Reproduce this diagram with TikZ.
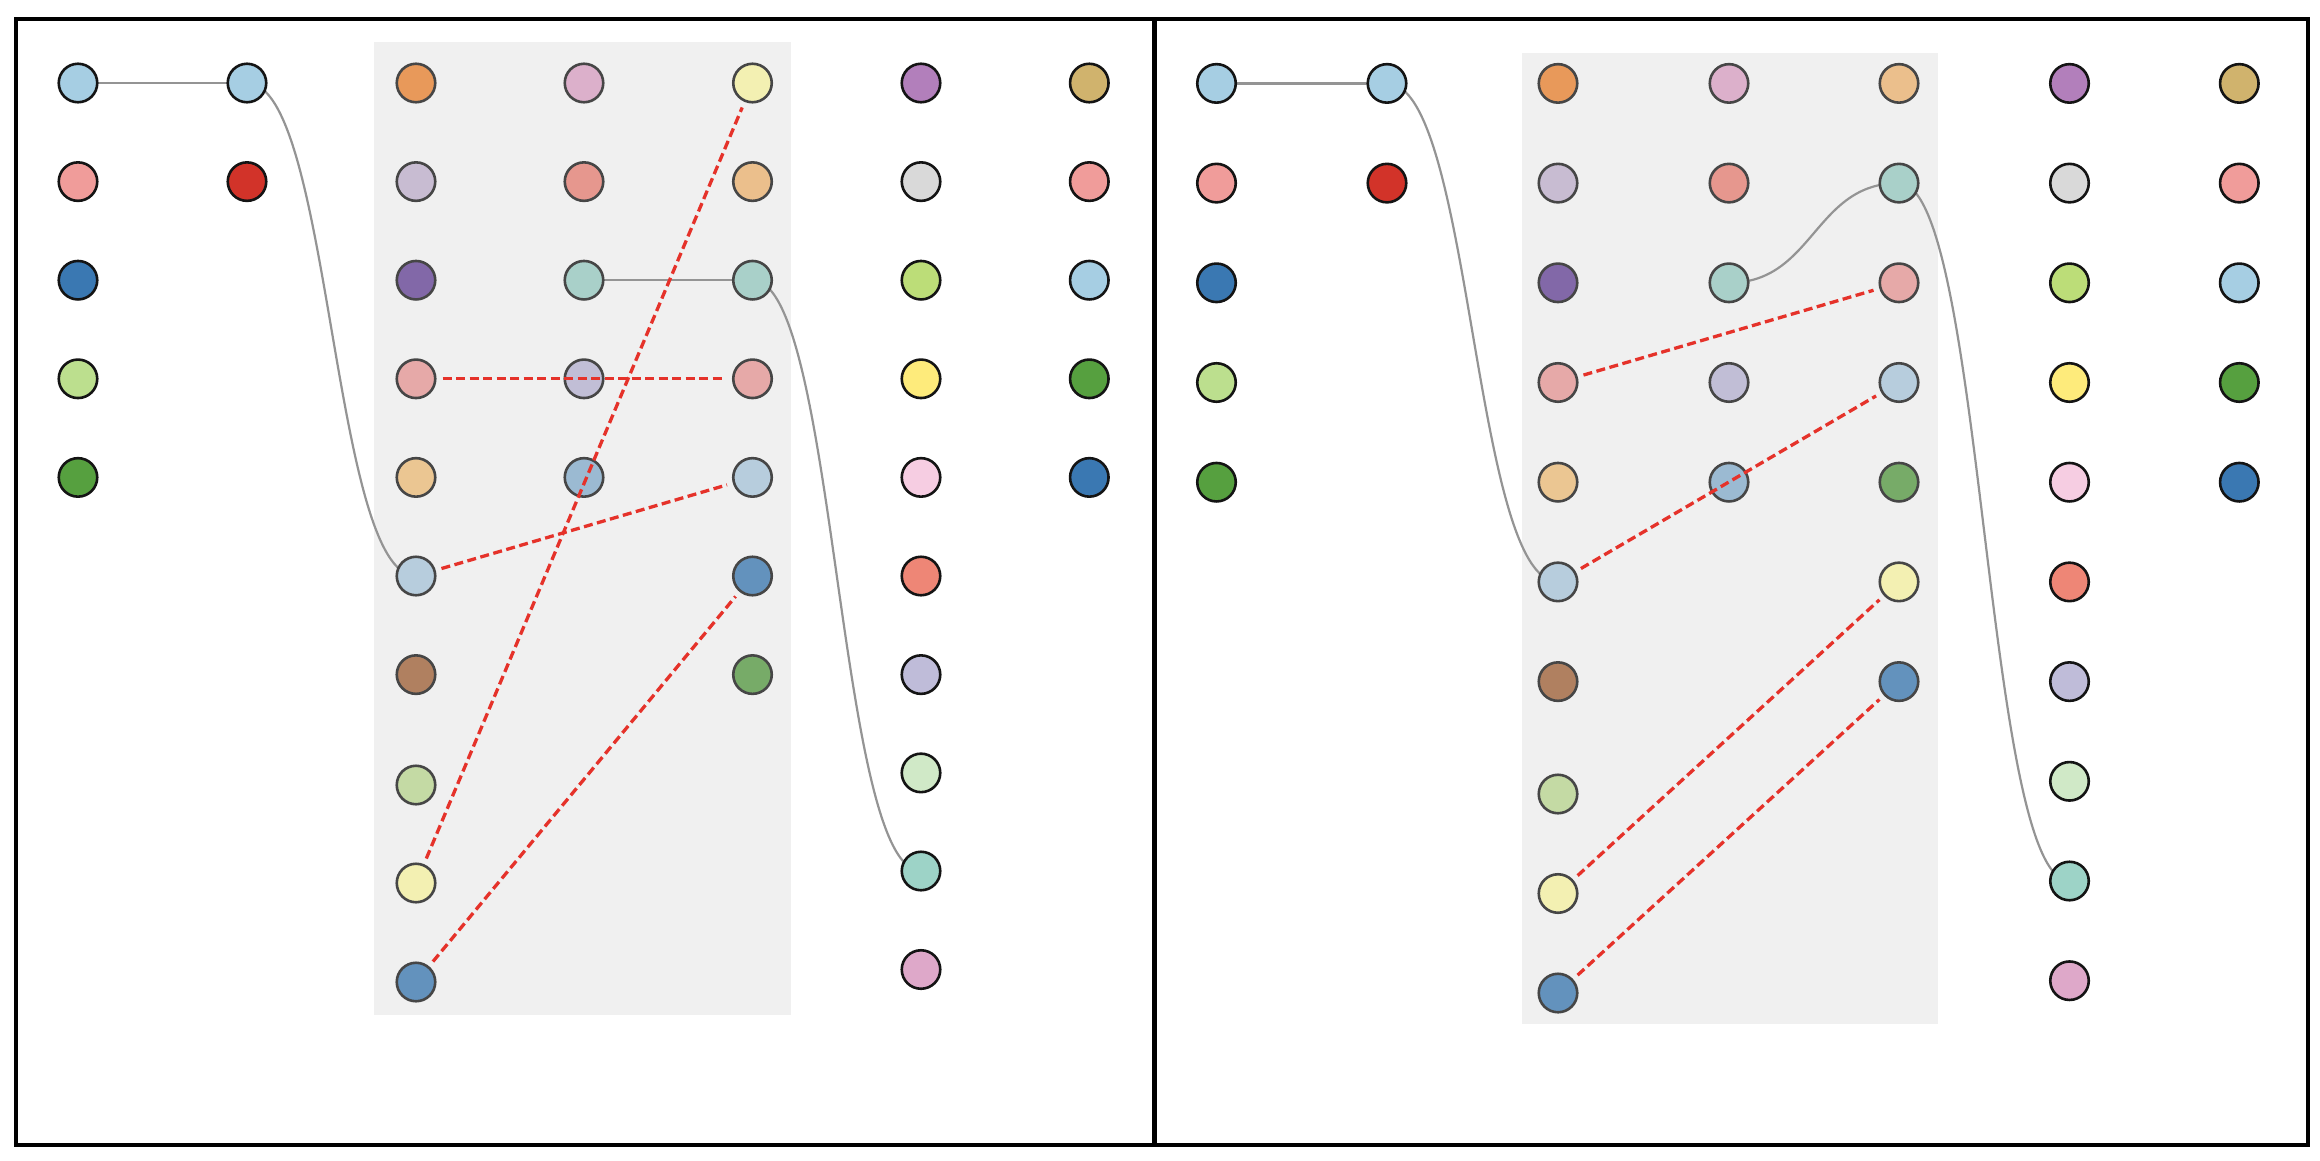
\documentclass[tikz,border=0pt]{standalone}
\usetikzlibrary{calc}
\pgfdeclarelayer{back}
\pgfdeclarelayer{links}
\pgfsetlayers{back,links,main}
\definecolor{lb}{HTML}{A6CEE3}
\definecolor{pk}{HTML}{F09C9A}
\definecolor{bl}{HTML}{3A78B2}
\definecolor{lg}{HTML}{BCDF8E}
\definecolor{gn}{HTML}{56A03F}
\definecolor{rd}{HTML}{D23329}
\definecolor{cOrange}{HTML}{E8995A}
\definecolor{cLav}{HTML}{C8BCD2}
\definecolor{cPurp}{HTML}{8268A8}
\definecolor{cRose}{HTML}{E6A9A8}
\definecolor{cTan}{HTML}{EBC692}
\definecolor{cLsteel}{HTML}{B7CDDD}
\definecolor{cBrown}{HTML}{B08060}
\definecolor{cOlive}{HTML}{C4DAA4}
\definecolor{cPyel}{HTML}{F3F0B2}
\definecolor{cSteel}{HTML}{6392BD}
\definecolor{dPinklav}{HTML}{DCB0CB}
\definecolor{dSalmon}{HTML}{E6978E}
\definecolor{dTeal}{HTML}{A9D0C9}
\definecolor{dLavg}{HTML}{C1BED6}
\definecolor{dSteel}{HTML}{9BBAD2}
\definecolor{eTan}{HTML}{EBBF8C}
\definecolor{eGreen}{HTML}{77AB68}
\definecolor{fPurp}{HTML}{B27FBB}
\definecolor{fGray}{HTML}{D9D9D9}
\definecolor{fYg}{HTML}{BCDD78}
\definecolor{fYel}{HTML}{FEEB7B}
\definecolor{fPink}{HTML}{F6CDE2}
\definecolor{fSal}{HTML}{EE8676}
\definecolor{fLav}{HTML}{BFBCD9}
\definecolor{fMint}{HTML}{D0E9C7}
\definecolor{fAqua}{HTML}{9DD3C7}
\definecolor{fMag}{HTML}{DEA8C9}
\definecolor{gKhaki}{HTML}{D0B36D}
\definecolor{boxedge}{HTML}{464646}
\definecolor{boxfill}{HTML}{F0F0F0}
\definecolor{linkgray}{HTML}{949494}
\definecolor{cutred}{HTML}{E5322A}
\begin{document}
\begin{tikzpicture}[x=1pt,y=-1pt,
  dotk/.style={circle, draw=black!92, line width=2.6pt, minimum size=38.5pt, inner sep=0pt},
  dotg/.style={circle, draw=boxedge, line width=2.6pt, minimum size=38.5pt, inner sep=0pt},
  link/.style={draw=linkgray, line width=2.2pt},
  cut/.style={draw=cutred, line width=3.3pt, dash pattern=on 9pt off 4.5pt, shorten <=6pt, shorten >=6pt},
  panelbox/.style={fill=boxfill, draw=none}]
\useasboundingbox (0,0) rectangle (2320,1160);

% ---------- background and gray boxes ----------
\begin{pgfonlayer}{back}
\fill[white] (0,0) rectangle (2320,1160);
\path[panelbox] (373.5,41.5) rectangle (790.5,1014.5);
\path[panelbox] (1521.5,52.5) rectangle (1937.5,1024);
\end{pgfonlayer}

% ---------- LEFT PANEL ----------
% column 1
\node[dotk, fill=lb] (La1) at (78,83) {};
\node[dotk, fill=pk] (La2) at (78,181.6) {};
\node[dotk, fill=bl] (La3) at (78,280.2) {};
\node[dotk, fill=lg] (La4) at (78,378.8) {};
\node[dotk, fill=gn] (La5) at (78,477.4) {};
% column 2
\node[dotk, fill=lb] (Lb1) at (247,83) {};
\node[dotk, fill=rd] (Lb2) at (247,181.6) {};
% column 3
\node[dotg, fill=cOrange] (Lc1) at (416,83) {};
\node[dotg, fill=cLav] (Lc2) at (416,181.6) {};
\node[dotg, fill=cPurp] (Lc3) at (416,280.2) {};
\node[dotg, fill=cRose] (Lc4) at (416,378.8) {};
\node[dotg, fill=cTan] (Lc5) at (416,477.4) {};
\node[dotg, fill=cLsteel] (Lc6) at (416,576) {};
\node[dotg, fill=cBrown] (Lc7) at (416,674.6) {};
\node[dotg, fill=cOlive] (Lc8) at (416,785) {};
\node[dotg, fill=cPyel] (Lc9) at (416,883) {};
\node[dotg, fill=cSteel] (Lc10) at (416,982) {};
% column 4
\node[dotg, fill=dPinklav] (Ld1) at (584,83) {};
\node[dotg, fill=dSalmon] (Ld2) at (584,181.6) {};
\node[dotg, fill=dTeal] (Ld3) at (584,280.2) {};
\node[dotg, fill=dLavg] (Ld4) at (584,378.8) {};
\node[dotg, fill=dSteel] (Ld5) at (584,477.4) {};
% column 5
\node[dotg, fill=cPyel] (Le1) at (752.5,83) {};
\node[dotg, fill=eTan] (Le2) at (752.5,181.6) {};
\node[dotg, fill=dTeal] (Le3) at (752.5,280.2) {};
\node[dotg, fill=cRose] (Le4) at (752.5,378.8) {};
\node[dotg, fill=cLsteel] (Le5) at (752.5,477.4) {};
\node[dotg, fill=cSteel] (Le6) at (752.5,576) {};
\node[dotg, fill=eGreen] (Le7) at (752.5,674.6) {};
% column 6
\node[dotk, fill=fPurp] (Lf1) at (921,83) {};
\node[dotk, fill=fGray] (Lf2) at (921,181.6) {};
\node[dotk, fill=fYg] (Lf3) at (921,280.2) {};
\node[dotk, fill=fYel] (Lf4) at (921,378.8) {};
\node[dotk, fill=fPink] (Lf5) at (921,477.4) {};
\node[dotk, fill=fSal] (Lf6) at (921,576) {};
\node[dotk, fill=fLav] (Lf7) at (921,674.6) {};
\node[dotk, fill=fMint] (Lf8) at (921,772.9) {};
\node[dotk, fill=fAqua] (Lf9) at (921,871) {};
\node[dotk, fill=fMag] (Lf10) at (921,969.5) {};
% column 7
\node[dotk, fill=gKhaki] (Lg1) at (1089.3,83) {};
\node[dotk, fill=pk] (Lg2) at (1089.3,181.6) {};
\node[dotk, fill=lb] (Lg3) at (1089.3,280.2) {};
\node[dotk, fill=gn] (Lg4) at (1089.3,378.8) {};
\node[dotk, fill=bl] (Lg5) at (1089.3,477.4) {};

% ---------- RIGHT PANEL ----------
\node[dotk, fill=lb] (Ra1) at (1216.5,83.4) {};
\node[dotk, fill=pk] (Ra2) at (1216.5,183.1) {};
\node[dotk, fill=bl] (Ra3) at (1216.5,282.8) {};
\node[dotk, fill=lg] (Ra4) at (1216.5,382.5) {};
\node[dotk, fill=gn] (Ra5) at (1216.5,482.2) {};
\node[dotk, fill=lb] (Rb1) at (1387,83.4) {};
\node[dotk, fill=rd] (Rb2) at (1387,183.1) {};
\node[dotg, fill=cOrange] (Rc1) at (1558,83.4) {};
\node[dotg, fill=cLav] (Rc2) at (1558,183.1) {};
\node[dotg, fill=cPurp] (Rc3) at (1558,282.8) {};
\node[dotg, fill=cRose] (Rc4) at (1558,382.5) {};
\node[dotg, fill=cTan] (Rc5) at (1558,482.2) {};
\node[dotg, fill=cLsteel] (Rc6) at (1558,581.9) {};
\node[dotg, fill=cBrown] (Rc7) at (1558,681.6) {};
\node[dotg, fill=cOlive] (Rc8) at (1558,794) {};
\node[dotg, fill=cPyel] (Rc9) at (1558,893.5) {};
\node[dotg, fill=cSteel] (Rc10) at (1558,993) {};
\node[dotg, fill=dPinklav] (Rd1) at (1729,83.4) {};
\node[dotg, fill=dSalmon] (Rd2) at (1729,183.1) {};
\node[dotg, fill=dTeal] (Rd3) at (1729,282.8) {};
\node[dotg, fill=dLavg] (Rd4) at (1729,382.5) {};
\node[dotg, fill=dSteel] (Rd5) at (1729,482.2) {};
\node[dotg, fill=eTan] (Re1) at (1899,83.4) {};
\node[dotg, fill=dTeal] (Re2) at (1899,183.1) {};
\node[dotg, fill=cRose] (Re3) at (1899,282.8) {};
\node[dotg, fill=cLsteel] (Re4) at (1899,382.5) {};
\node[dotg, fill=eGreen] (Re5) at (1899,482.2) {};
\node[dotg, fill=cPyel] (Re6) at (1899,581.9) {};
\node[dotg, fill=cSteel] (Re7) at (1899,681.6) {};
\node[dotk, fill=fPurp] (Rf1) at (2069.5,83.4) {};
\node[dotk, fill=fGray] (Rf2) at (2069.5,183.1) {};
\node[dotk, fill=fYg] (Rf3) at (2069.5,282.8) {};
\node[dotk, fill=fYel] (Rf4) at (2069.5,382.5) {};
\node[dotk, fill=fPink] (Rf5) at (2069.5,482.2) {};
\node[dotk, fill=fSal] (Rf6) at (2069.5,581.9) {};
\node[dotk, fill=fLav] (Rf7) at (2069.5,681.6) {};
\node[dotk, fill=fMint] (Rf8) at (2069.5,781.3) {};
\node[dotk, fill=fAqua] (Rf9) at (2069.5,881) {};
\node[dotk, fill=fMag] (Rf10) at (2069.5,980.7) {};
\node[dotk, fill=gKhaki] (Rg1) at (2239.3,83.4) {};
\node[dotk, fill=pk] (Rg2) at (2239.3,183.1) {};
\node[dotk, fill=lb] (Rg3) at (2239.3,282.8) {};
\node[dotk, fill=gn] (Rg4) at (2239.3,382.5) {};
\node[dotk, fill=bl] (Rg5) at (2239.3,482.2) {};

% ---------- gray links (behind nodes) ----------
\coordinate (m1) at ($(Lb1.center)!0.5!(Lc6.center)$);
\coordinate (m2) at ($(Le3.center)!0.5!(Lf9.center)$);
\coordinate (m3) at ($(Rb1.center)!0.5!(Rc6.center)$);
\coordinate (m4) at ($(Rd3.center)!0.5!(Re2.center)$);
\coordinate (m5) at ($(Re2.center)!0.5!(Rf9.center)$);
\begin{pgfonlayer}{links}
\draw[link] (La1.center) -- (Lb1.center);
\draw[link] (Lb1.center) .. controls (m1 |- Lb1) and (m1 |- Lc6) .. (Lc6.center);
\draw[link] (Ld3.center) -- (Le3.center);
\draw[link] (Le3.center) .. controls (m2 |- Le3) and (m2 |- Lf9) .. (Lf9.center);
\draw[link] (Ra1.center) -- (Rb1.center);
\draw[link] (Rb1.center) .. controls (m3 |- Rb1) and (m3 |- Rc6) .. (Rc6.center);
\draw[link] (Rd3.center) .. controls (m4 |- Rd3) and (m4 |- Re2) .. (Re2.center);
\draw[link] (Re2.center) .. controls (m5 |- Re2) and (m5 |- Rf9) .. (Rf9.center);
\end{pgfonlayer}

% ---------- red dashed cuts (on top) ----------
\draw[cut] (Lc4) -- (Le4);
\draw[cut] (Lc6) -- (Le5);
\draw[cut] (Lc9) -- (Le1);
\draw[cut] (Lc10) -- (Le6);
\draw[cut] (Rc4) -- (Re3);
\draw[cut] (Rc6) -- (Re4);
\draw[cut] (Rc9) -- (Re6);
\draw[cut] (Rc10) -- (Re7);

% ---------- frames ----------
\draw[line width=4pt] (16,19.3) rectangle (2307.7,1145.3);
\draw[line width=4.5pt] (1154.7,19.3) -- (1154.7,1145.3);
\end{tikzpicture}
\end{document}
